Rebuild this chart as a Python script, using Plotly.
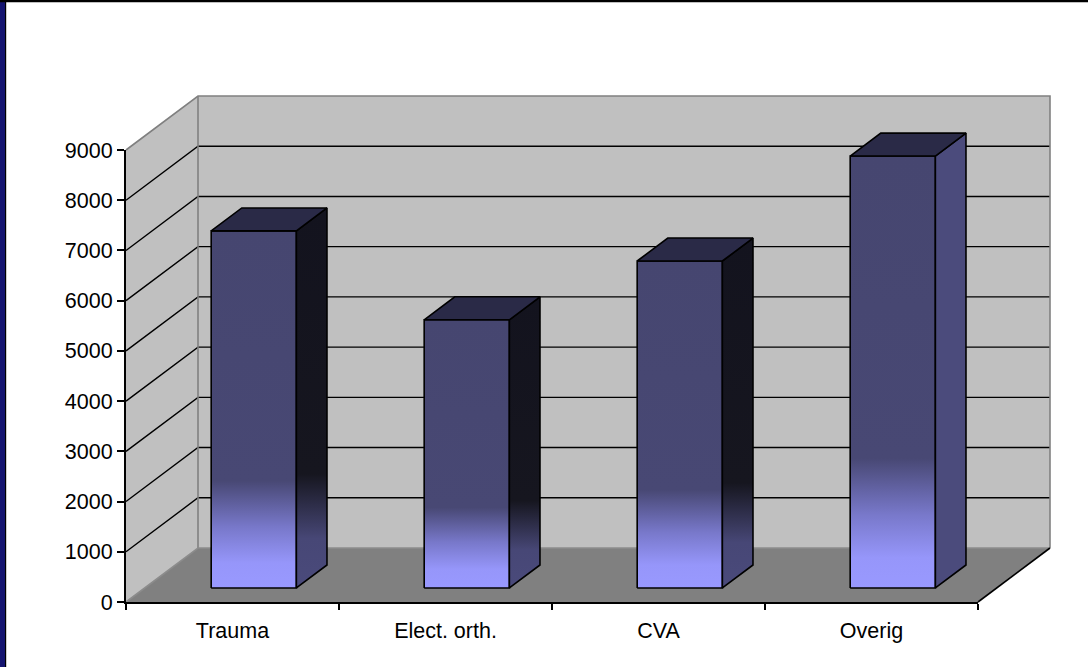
import plotly.graph_objects as go

# ---- data -------------------------------------------------------------
CATEGORIES = ["Trauma", "Elect. orth.", "CVA", "Overig"]
VALUES = [7110, 5340, 6510, 8600]
Y_TICKS = [0, 1000, 2000, 3000, 4000, 5000, 6000, 7000, 8000, 9000]

# ---- canvas / projection ---------------------------------------------
W, H = 1088, 667
ORIGIN_X, ORIGIN_Y = 126, 602          # front-left corner of the floor (px)
PX_PER_CAT = 213                       # horizontal size of one category (px)
PX_PER_VAL = 452 / 9000                # vertical px per value unit
VMAX = Y_TICKS[-1]
NCAT = len(CATEGORIES)
DEPTH_X = 72 / PX_PER_CAT              # depth offset, category units
DEPTH_Y = 54 / PX_PER_VAL              # depth offset, value units
BAR_FRONT, BAR_BACK = 0.26, 0.685      # bar position within the floor depth
BAR_WIDTH = 0.40
BAR_SHIFT = 0.012

FONT = "Liberation Sans, Arial, sans-serif"
WALL = "#C0C0C0"
FLOOR = "#808080"
EDGE = "#808080"

# per-bar shading of the right-hand face
SIDE_STYLE = ["shade", "shade", "shade", "lit"]

XR = (-0.1, NCAT + DEPTH_X + 0.1)
YR = (-600.0, VMAX + DEPTH_Y + 400)


def xdom(lo, hi):
    return [(ORIGIN_X + lo * PX_PER_CAT) / W, (ORIGIN_X + hi * PX_PER_CAT) / W]


def ydom(lo, hi):
    return [(H - (ORIGIN_Y - lo * PX_PER_VAL)) / H, (H - (ORIGIN_Y - hi * PX_PER_VAL)) / H]


def path(pts, closed=False):
    s = "M " + " L ".join(f"{x:.5f},{y:.3f}" for x, y in pts)
    return s + (" Z" if closed else "")


D, E = DEPTH_X, DEPTH_Y
shapes = []

# walls and floor
shapes.append(dict(type="path", layer="below", xref="x", yref="y",
                   path=path([(D, E), (NCAT + D, E), (NCAT + D, VMAX + E), (D, VMAX + E)], True),
                   fillcolor=WALL, line=dict(width=0)))
shapes.append(dict(type="path", layer="below", xref="x", yref="y",
                   path=path([(0, 0), (D, E), (D, VMAX + E), (0, VMAX)], True),
                   fillcolor=WALL, line=dict(width=0)))
shapes.append(dict(type="path", layer="below", xref="x", yref="y",
                   path=path([(0, 0), (NCAT, 0), (NCAT + D, E), (D, E)], True),
                   fillcolor=FLOOR, line=dict(width=0)))

# gridlines running along the side wall and the back wall
for v in Y_TICKS[1:-1]:
    shapes.append(dict(type="path", layer="below", xref="x", yref="y",
                       path=path([(0, v), (D, v + E), (NCAT + D, v + E)]),
                       line=dict(color="black", width=1.4)))

# grey wall edges
shapes.append(dict(type="path", layer="below", xref="x", yref="y",
                   path=path([(0, VMAX), (D, VMAX + E), (NCAT + D, VMAX + E), (NCAT + D, E)]),
                   line=dict(color=EDGE, width=1.6)))
shapes.append(dict(type="path", layer="below", xref="x", yref="y",
                   path=path([(D, E), (D, VMAX + E)]),
                   line=dict(color=EDGE, width=1.6)))
shapes.append(dict(type="path", layer="below", xref="x", yref="y",
                   path=path([(0, 0), (D, E), (NCAT + D, E)]),
                   line=dict(color="#8C8C8C", width=1.6)))
# right edge of the floor
shapes.append(dict(type="path", layer="below", xref="x", yref="y",
                   path=path([(NCAT, 0), (NCAT + D, E)]),
                   line=dict(color="black", width=1.6)))

# outer frame
shapes.append(dict(type="rect", xref="paper", yref="paper", x0=0, x1=5 / W, y0=0, y1=1,
                   fillcolor="#141470", line=dict(width=0)))
shapes.append(dict(type="rect", xref="paper", yref="paper", x0=5 / W, x1=6.2 / W, y0=0, y1=1,
                   fillcolor="#000000", line=dict(width=0)))
shapes.append(dict(type="rect", xref="paper", yref="paper", x0=0, x1=1, y0=1 - 2.2 / H, y1=1,
                   fillcolor="#000000", line=dict(width=0)))

FRONT_SCALE = [[0, "#9999FF"], [0.07, "#9696FA"], [0.17, "#7878CA"],
               [0.30, "#484874"], [1, "#464670"]]
SIDE_SCALES = {
    "shade": [[0, "#4A4A7B"], [0.13, "#474776"], [0.30, "#16161F"], [1, "#13131E"]],
    "lit": [[0, "#4B4B7C"], [1, "#4B4B7C"]],
}
TOP_COLOR = "#2A2A47"
OUTLINE = dict(color="black", width=1.6)

fig = go.Figure()

ddx = (BAR_BACK - BAR_FRONT) * D
ddy = (BAR_BACK - BAR_FRONT) * E
for i, (cat, v) in enumerate(zip(CATEGORIES, VALUES)):
    cx = i + 0.5 + BAR_SHIFT + BAR_FRONT * D
    xl, xr = cx - BAR_WIDTH / 2, cx + BAR_WIDTH / 2
    y0 = BAR_FRONT * E
    y1 = y0 + v
    # front face
    fig.add_trace(go.Scatter(
        x=[xl, xr, xr, xl, xl], y=[y0, y0, y1, y1, y0],
        mode="lines", fill="toself", line=OUTLINE,
        fillgradient=dict(type="vertical", colorscale=FRONT_SCALE, start=y0, stop=y1),
        name=cat, hoverinfo="skip", showlegend=False))
    # right face
    fig.add_trace(go.Scatter(
        x=[xr, xr + ddx, xr + ddx, xr, xr], y=[y0, y0 + ddy, y1 + ddy, y1, y0],
        mode="lines", fill="toself", line=OUTLINE,
        fillgradient=dict(type="vertical", colorscale=SIDE_SCALES[SIDE_STYLE[i]],
                          start=y0, stop=y1 + ddy),
        hoverinfo="skip", showlegend=False))
    # top face
    fig.add_trace(go.Scatter(
        x=[xl, xr, xr + ddx, xl + ddx, xl], y=[y1, y1, y1 + ddy, y1 + ddy, y1],
        mode="lines", fill="toself", fillcolor=TOP_COLOR, line=OUTLINE,
        hoverinfo="skip", showlegend=False))

# category / value axes on the front plane
fig.add_trace(go.Scatter(x=CATEGORIES, y=[0] * NCAT, mode="markers",
                         marker=dict(opacity=0), xaxis="x2", yaxis="y2",
                         hoverinfo="skip", showlegend=False))

tickfont = dict(family=FONT, size=21.5, color="black")
fig.update_layout(
    template="none",
    width=W, height=H,
    margin=dict(l=0, r=0, t=0, b=0, pad=0, autoexpand=False),
    paper_bgcolor="white", plot_bgcolor="rgba(0,0,0,0)",
    showlegend=False, hovermode=False,
    shapes=shapes,
    xaxis=dict(domain=xdom(*XR), range=list(XR), visible=False, fixedrange=True,
               anchor="y", automargin=False),
    yaxis=dict(domain=ydom(*YR), range=list(YR), visible=False, fixedrange=True,
               anchor="x", automargin=False),
    xaxis2=dict(domain=xdom(0, NCAT), range=[-0.5, NCAT - 0.5], anchor="y2",
                type="category", categoryorder="array", categoryarray=CATEGORIES,
                tickson="boundaries", ticks="outside", ticklen=6, tickwidth=1.5,
                tickcolor="black", showline=True, linecolor="black", linewidth=2,
                showgrid=False, zeroline=False, tickfont=tickfont, fixedrange=True,
                ticklabelstandoff=8, automargin=False),
    yaxis2=dict(domain=ydom(0, VMAX), range=[0, VMAX], anchor="x2",
                tickmode="array", tickvals=Y_TICKS, ticktext=[str(t) for t in Y_TICKS],
                ticks="outside", ticklen=7, tickwidth=1.5, tickcolor="black",
                showline=True, linecolor="black", linewidth=2,
                showgrid=False, zeroline=False, tickfont=tickfont, fixedrange=True,
                automargin=False),
)

fig.write_html("out.html", config={"displayModeBar": False})
